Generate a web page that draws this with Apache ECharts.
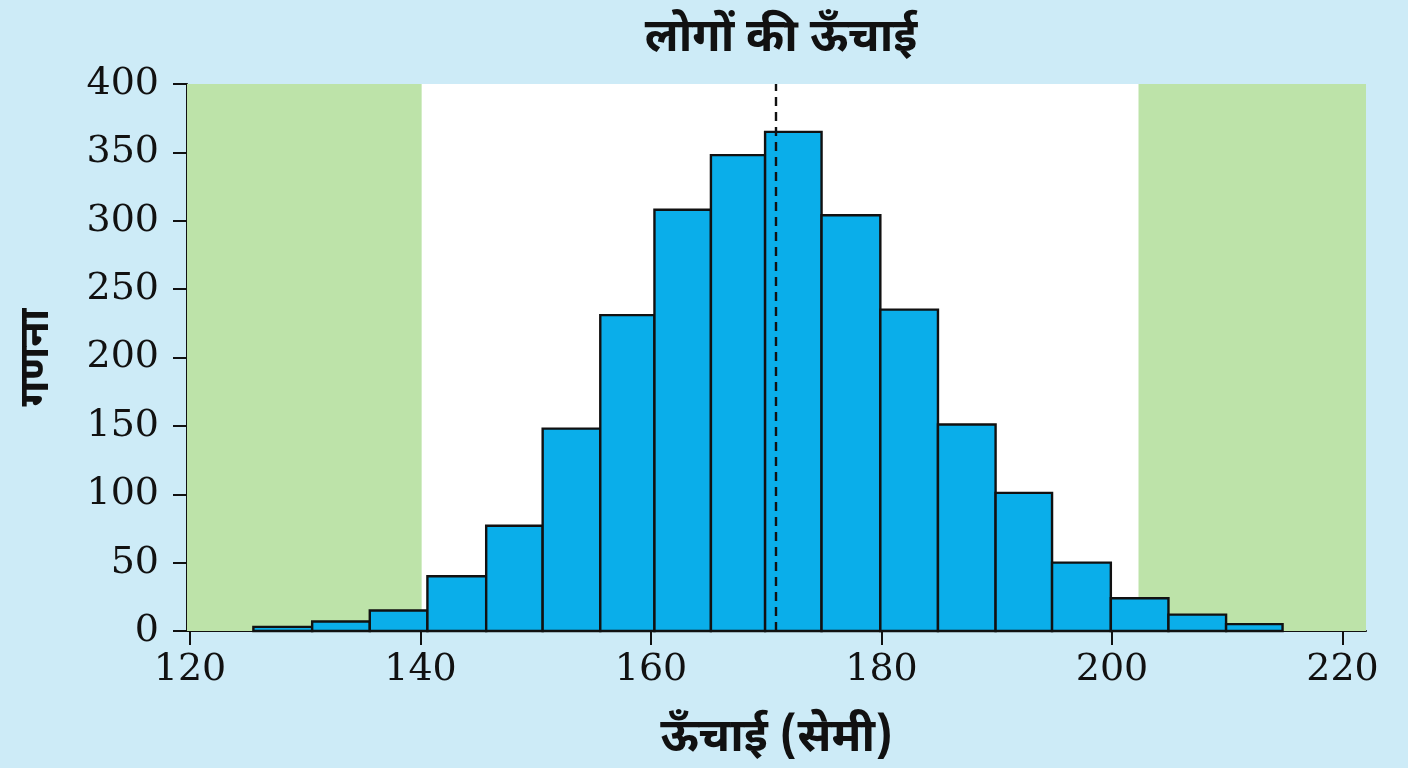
<!DOCTYPE html>
<html>
<head>
<meta charset="utf-8">
<script src="https://cdn.jsdelivr.net/npm/echarts@6/dist/echarts.min.js"></script>
<style>
  html, body { margin: 0; padding: 0; background: #cdebf7; }
  #chart-container { width: 1408px; height: 768px; }
</style>
</head>
<body>
<div id="chart-container"></div>
<script>
// bin edges (cm) and counts
var binLower = [125.5, 130.6, 135.6, 140.6, 145.7, 150.6, 155.6, 160.3, 165.2, 169.9, 174.8, 179.9, 184.9, 189.9, 194.8, 199.9, 204.9, 209.9];
var binUpper = [130.6, 135.6, 140.6, 145.7, 150.6, 155.6, 160.3, 165.2, 169.9, 174.8, 179.9, 184.9, 189.9, 194.8, 199.9, 204.9, 209.9, 214.8];
var counts = [3, 7, 15, 40, 77, 148, 231, 308, 348, 365, 304, 235, 151, 101, 50, 24, 12, 5];
var meanHeight = 170.8;
var lowZone = [119.74, 140.1];
var highZone = [202.3, 222.04];
var xTicks = [120, 140, 160, 180, 200, 220];

var devFont = "'Noto Sans Devanagari', 'Noto Sans', sans-serif";
var numFont = "'DejaVu Serif', serif";

var dom = document.getElementById('chart-container');
var myChart = echarts.init(dom, null, { renderer: 'canvas' });

var barData = counts.map(function (c, i) { return [binLower[i], binUpper[i], c]; });

var option = {
  backgroundColor: '#cdebf7',
  animation: false,
  title: {
    text: 'लोगों की ऊँचाई',
    left: 776,
    textAlign: 'center',
    top: 14,
    textStyle: { fontFamily: devFont, fontSize: 46, fontWeight: 'bold', color: '#111' }
  },
  grid: {
    left: 187, right: 42, top: 84, bottom: 137,
    outerBoundsMode: 'none',
    containLabel: false,
    show: true, backgroundColor: '#ffffff', borderWidth: 0
  },
  xAxis: {
    type: 'value',
    min: lowZone[0],
    max: highZone[1],
    name: 'ऊँचाई (सेमी)',
    nameLocation: 'middle',
    nameGap: 88,
    nameTextStyle: { fontFamily: devFont, fontSize: 46, fontWeight: 'bold', color: '#111' },
    axisLine: { onZero: false, lineStyle: { color: '#111', width: 2 } },
    axisTick: { show: true, length: 14, lineStyle: { color: '#111', width: 2 }, customValues: xTicks },
    axisLabel: { customValues: xTicks, margin: 20, fontFamily: numFont, fontSize: 38, color: '#111' },
    splitLine: { show: false }
  },
  yAxis: {
    type: 'value',
    min: 0,
    max: 400,
    interval: 50,
    name: 'गणना',
    nameLocation: 'middle',
    nameGap: 126,
    nameTextStyle: { fontFamily: devFont, fontSize: 42, fontWeight: 'bold', color: '#111' },
    axisLine: { show: true, lineStyle: { color: '#111', width: 2 } },
    axisTick: { show: true, length: 14, lineStyle: { color: '#111', width: 2 } },
    axisLabel: { margin: 28, fontFamily: numFont, fontSize: 38, color: '#111' },
    splitLine: { show: false }
  },
  series: [
    {
      type: 'line',
      z: 1,
      data: [],
      silent: true,
      markArea: {
        silent: true,
        itemStyle: { color: '#bde3a9' },
        data: [
          [{ xAxis: lowZone[0] }, { xAxis: lowZone[1] }],
          [{ xAxis: highZone[0] }, { xAxis: highZone[1] }]
        ]
      }
    },
    {
      type: 'custom',
      z: 2,
      data: barData,
      renderItem: function (params, api) {
        var p0 = api.coord([api.value(0), api.value(2)]);
        var p1 = api.coord([api.value(1), 0]);
        return {
          type: 'rect',
          shape: { x: p0[0], y: p0[1], width: p1[0] - p0[0], height: p1[1] - p0[1] },
          style: { fill: '#0aaeea', stroke: '#111', lineWidth: 2.4 }
        };
      },
      encode: { x: [0, 1], y: 2 }
    },
    {
      type: 'line',
      z: 3,
      data: [],
      silent: true,
      markLine: {
        silent: true,
        symbol: 'none',
        label: { show: false },
        lineStyle: { color: '#111', type: [9, 6], width: 2.4 },
        data: [{ xAxis: meanHeight }]
      }
    }
  ]
};

myChart.setOption(option);
window.addEventListener('resize', myChart.resize);
</script>
</body>
</html>
